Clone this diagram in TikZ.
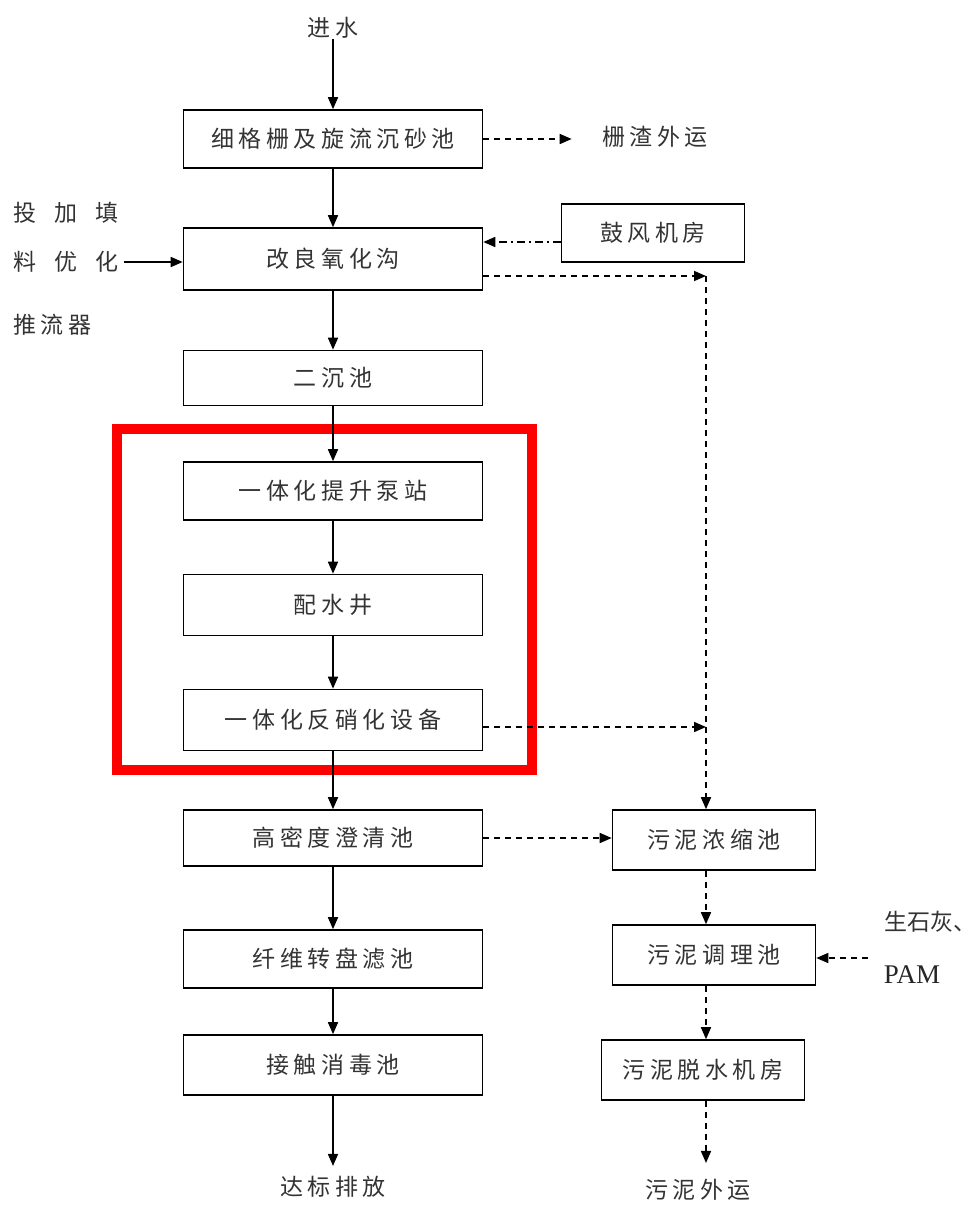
\documentclass[tikz,border=0pt]{standalone}
\usepackage{fontspec}
\setmainfont{Liberation Serif}
\newfontfamily\cjk[LetterSpace=20]{Noto Sans CJK SC}
\usetikzlibrary{arrows.meta,positioning}

\begin{document}
\begin{tikzpicture}[
		x=0.5pt, y=-0.5pt,
		proc/.style={draw, line width=0.8pt, minimum width=149.5pt, minimum height=29pt, inner sep=0pt,
			font=\cjk\fontsize{11.5}{13}\selectfont, text=black!80},
		sludgebox/.style={proc, minimum width=101.5pt, minimum height=30pt},
		txt/.style={inner sep=0pt, font=\cjk\fontsize{11.5}{13}\selectfont, text=black!80},
		flow/.style={-{Triangle[length=6pt,width=5pt]}, line width=0.8pt},
		sludge/.style={flow, dash pattern=on 3pt off 2.5pt},
		air/.style={flow, dash pattern=on 4pt off 2pt on 1pt off 2pt},
		]
	
		\useasboundingbox (0,0) rectangle (979,1205);
	
		% --- red frame ---
		\draw[red, line width=5pt] (117,429) rectangle (532,770);
	
		% --- water line ---
		\node[txt] (jinshui) at (333, 28) {进水};
		\node[proc] (geshan) at (333, 139) {细格栅及旋流沉砂池};
		\node[txt] (zhaout) at (655, 137) {栅渣外运};
		\node[proc, minimum width=91.5pt] (gufeng) at (653, 233) {鼓风机房};
		\node[proc, minimum height=31pt] (yanghua) at (333, 259) {改良氧化沟};
		\node[txt, anchor=west] (tianA) at (13, 213) {投\hspace{9pt}加\hspace{9pt}填};
		\node[txt, anchor=west] (tianB) at (13, 262) {料\hspace{9pt}优\hspace{9pt}化};
		\node[txt, anchor=west] (tianC) at (13, 325) {推流器};
		\node[proc, minimum height=27.5pt] (erchen) at (333, 378) {二沉池};
		\node[proc] (bengzhan) at (333, 491) {一体化提升泵站};
		\node[proc, minimum height=30.5pt] (peishui) at (333, 605) {配水井};
		\node[proc, minimum height=30.5pt] (fanxiao) at (333, 720) {一体化反硝化设备};
		\node[proc, minimum height=28pt] (gaomi) at (333, 838) {高密度澄清池};
		\node[proc] (xianwei) at (333, 959) {纤维转盘滤池};
		\node[proc, minimum height=30pt] (xiaodu) at (333, 1065) {接触消毒池};
		\node[txt] (dabiao) at (333, 1187) {达标排放};
	
		% --- sludge line ---
		\node[sludgebox] (nongsuo) at (714, 840) {污泥浓缩池};
		\node[sludgebox] (tiaoli) at (714, 955) {污泥调理池};
		\node[sludgebox] (tuoshui) at (703, 1070) {污泥脱水机房};
		\node[txt] (niout) at (698, 1190) {污泥外运};
		\node[txt, anchor=west, font=\fontspec{Noto Sans CJK SC}\fontsize{11.5}{13}\selectfont] (shihui) at (884, 922) {生石灰、};
		\node[inner sep=0pt, font=\fontsize{13.5}{15}\selectfont, text=black!85] (pam) at (912, 975) {PAM};
		\coordinate (turnA) at (706, 276);
		\coordinate (turnB) at (706, 727);
		\coordinate (yaoji) at (868, 958);
	
		\draw[flow] (jinshui) -- (geshan);
		\draw[flow] (geshan) -- (yanghua);
		\draw[flow] (yanghua) -- (erchen);
		\draw[flow] (erchen) -- (bengzhan);
		\draw[flow] (bengzhan) -- (peishui);
		\draw[flow] (peishui) -- (fanxiao);
		\draw[flow] (fanxiao) -- (gaomi);
		\draw[flow] (gaomi) -- (xianwei);
		\draw[flow] (xianwei) -- (xiaodu);
		\draw[flow, shorten >=5pt] (xiaodu) -- (dabiao);
		\draw[flow, shorten <=2.5pt] (tianB) -- (tianB -| yanghua.west);
	
		\draw[sludge, shorten >=15pt] (geshan) -- (geshan -| zhaout.west);
		\draw[air] ([yshift=-4.5pt]gufeng.west) -- ([yshift=-4.5pt]gufeng.west -| yanghua.east);
		\draw[sludge] ([yshift=-8.5pt]yanghua.east) -- (turnA);
		\draw[sludge] (turnA) -- (turnA |- nongsuo.north);
		\draw[sludge] ([yshift=-3.5pt]fanxiao.east) -- (turnB);
		\draw[sludge] (gaomi.east) -- (gaomi.east -| nongsuo.west);
		\draw[sludge] (nongsuo.south -| turnA) -- (tiaoli.north -| turnA);
		\draw[sludge] (tiaoli.south -| turnA) -- (tuoshui.north -| turnA);
		\draw[sludge, shorten >=8pt] (tuoshui.south -| turnA) -- (niout.north -| turnA);
		\draw[sludge] (yaoji) -- (yaoji -| tiaoli.east);
	
	\end{tikzpicture}
\end{document}
